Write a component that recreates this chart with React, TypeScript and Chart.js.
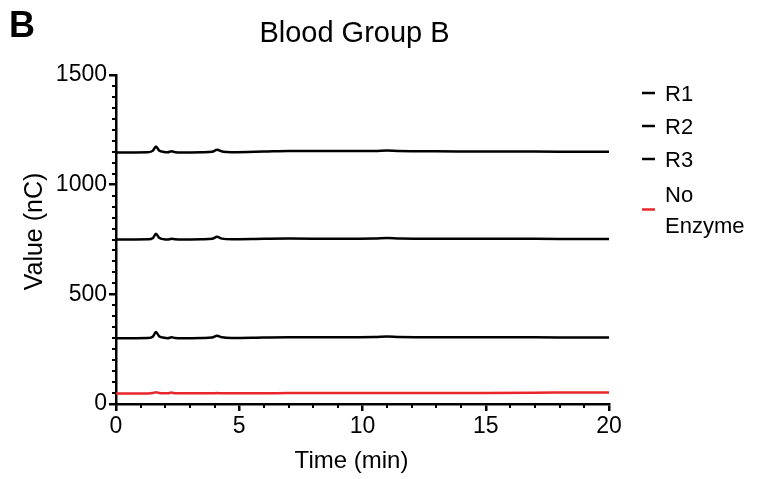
import React, { useEffect, useRef } from "react";
import { Chart, registerables } from "chart.js";

Chart.register(...registerables);

// Retention time (min) of the sampled trace points
const times = [0, 1.3, 1.5, 1.62, 1.75, 1.95, 2.1, 2.25, 2.4, 2.7, 3.5, 3.9, 4.1, 4.3, 4.7, 6, 7, 9, 10.5, 11, 11.5, 13, 15, 17, 19, 20];

// Detector signal (nC) for each run
const r1 = [1147, 1148, 1155, 1174, 1156, 1149, 1148, 1152, 1148, 1147, 1148, 1150, 1159, 1151, 1148, 1151, 1154, 1153, 1153, 1156, 1153, 1152, 1151, 1151, 1150, 1150];
const r2 = [750, 751, 757, 776, 758, 751, 750, 753, 751, 750, 751, 753, 762, 754, 751, 753, 754, 753, 754, 757, 754, 753, 753, 753, 752, 752];
const r3 = [300, 301, 308, 328, 309, 302, 300, 304, 301, 300, 301, 303, 311, 304, 301, 303, 304, 304, 305, 308, 305, 304, 304, 304, 303, 303];
const noEnzyme = [48, 48, 50, 54, 50, 49, 49, 52, 49, 49, 49, 49, 50, 49, 49, 49, 50, 50, 50, 50, 50, 50, 50, 51, 53, 52];

const seriesLabels = ["R1", "R2", "R3", "No Enzyme"];
const seriesColors = ["#000000", "#000000", "#000000", "#E8262B"];
const legendLines = [["R1"], ["R2"], ["R3"], ["No", "Enzyme"]];

const panelLetter = "B";
const chartTitle = "Blood Group B";
const xTitle = "Time (min)";
const yTitle = "Value (nC)";

const FONT = "'Liberation Sans', Arial, Helvetica, sans-serif";

// Minor tick marks along both axes
const minorTicks = {
  id: "minorTicks",
  afterDraw(chart: any) {
    const { ctx, chartArea, scales } = chart;
    const x = scales.x;
    const y = scales.y;
    ctx.save();
    ctx.strokeStyle = "#000";
    ctx.lineWidth = 2;
    ctx.beginPath();
    for (let v = 50; v < 1500; v += 50) {
      if (v % 500 === 0) continue;
      const py = Math.round(y.getPixelForValue(v));
      ctx.moveTo(chartArea.left - 4, py);
      ctx.lineTo(chartArea.left, py);
    }
    for (let t = 1; t < 20; t += 1) {
      if (t % 5 === 0) continue;
      const px = Math.round(x.getPixelForValue(t));
      ctx.moveTo(px, chartArea.bottom);
      ctx.lineTo(px, chartArea.bottom + 4);
    }
    ctx.stroke();
    ctx.restore();
  },
};

// Panel letter, titles and the line legend at the right
const annotations = {
  id: "annotations",
  afterDraw(chart: any) {
    const { ctx, chartArea } = chart;
    const midX = (chartArea.left + chartArea.right) / 2;
    ctx.save();
    ctx.fillStyle = "#000";
    ctx.textBaseline = "middle";

    ctx.font = `bold 36px ${FONT}`;
    ctx.textAlign = "left";
    ctx.fillText(panelLetter, 9, 27);

    ctx.font = `29px ${FONT}`;
    ctx.textAlign = "center";
    ctx.fillText(chartTitle, midX - 8, 34);

    // axis titles
    ctx.font = `24px ${FONT}`;
    ctx.fillText(xTitle, midX - 11, 461);
    ctx.save();
    ctx.translate(35, (chartArea.top + chartArea.bottom) / 2 - 8);
    ctx.rotate(-Math.PI / 2);
    ctx.font = `25px ${FONT}`;
    ctx.fillText(yTitle, 0, 0);
    ctx.restore();

    ctx.font = `22px ${FONT}`;
    ctx.textAlign = "left";
    const rowY = [95, 128, 161, 196];
    const lineGap = 31;
    legendLines.forEach((lines, i) => {
      const top = rowY[i];
      const midY = top + ((lines.length - 1) * lineGap) / 2 - 2;
      ctx.strokeStyle = seriesColors[i];
      ctx.lineWidth = 2.5;
      ctx.beginPath();
      ctx.moveTo(642, midY);
      ctx.lineTo(655, midY);
      ctx.stroke();
      lines.forEach((t, j) => ctx.fillText(t, 665, top + j * lineGap));
    });
    ctx.restore();
  },
};

export default function App() {
  const canvasRef = useRef<HTMLCanvasElement>(null);

  useEffect(() => {
    const canvas = canvasRef.current;
    if (!canvas) return;
    const seriesValues = [r1, r2, r3, noEnzyme];
    const chart = new Chart(canvas, {
      type: "line",
      data: {
        datasets: seriesValues.map((vals, i) => ({
          label: seriesLabels[i],
          data: times.map((t, k) => ({ x: t, y: vals[k] })),
          borderColor: seriesColors[i],
          backgroundColor: seriesColors[i],
          borderWidth: 2.5,
          pointRadius: 0,
          fill: false,
          cubicInterpolationMode: "monotone" as const,
        })),
      },
      options: {
        responsive: false,
        animation: false,
        events: [],
        layout: { padding: { top: 75, right: 156, left: 0, bottom: 0 } },
        plugins: {
          legend: { display: false },
          tooltip: { enabled: false },
          title: { display: false },
        },
        scales: {
          x: {
            type: "linear",
            min: 0,
            max: 20,
            afterFit(scale: any) {
              scale.height = 75;
            },
            ticks: {
              stepSize: 5,
              color: "#000",
              padding: 2,
              maxRotation: 0,
              font: { family: FONT, size: 23 },
              callback: (v: any) => String(v),
            },
            grid: {
              display: true,
              drawOnChartArea: false,
              drawTicks: true,
              tickLength: 7,
              color: "#000",
              lineWidth: 2.5,
            },
            border: { display: true, color: "#000", width: 2.5 },
            title: { display: false },
          },
          y: {
            type: "linear",
            min: 0,
            max: 1500,
            afterFit(scale: any) {
              scale.width = 116;
            },
            ticks: {
              stepSize: 500,
              color: "#000",
              padding: 2,
              font: { family: FONT, size: 23 },
              callback: (v: any) => String(v),
            },
            grid: {
              display: true,
              drawOnChartArea: false,
              drawTicks: true,
              tickLength: 7,
              color: "#000",
              lineWidth: 2.5,
            },
            border: { display: true, color: "#000", width: 2.5 },
            title: { display: false },
          },
        },
      },
      plugins: [minorTicks, annotations],
    });
    return () => chart.destroy();
  }, []);

  return (
    <div style={{ position: "absolute", left: 0, top: 0, width: 765, height: 479, background: "#fff" }}>
      <canvas ref={canvasRef} width={765} height={479} style={{ display: "block" }} />
    </div>
  );
}
